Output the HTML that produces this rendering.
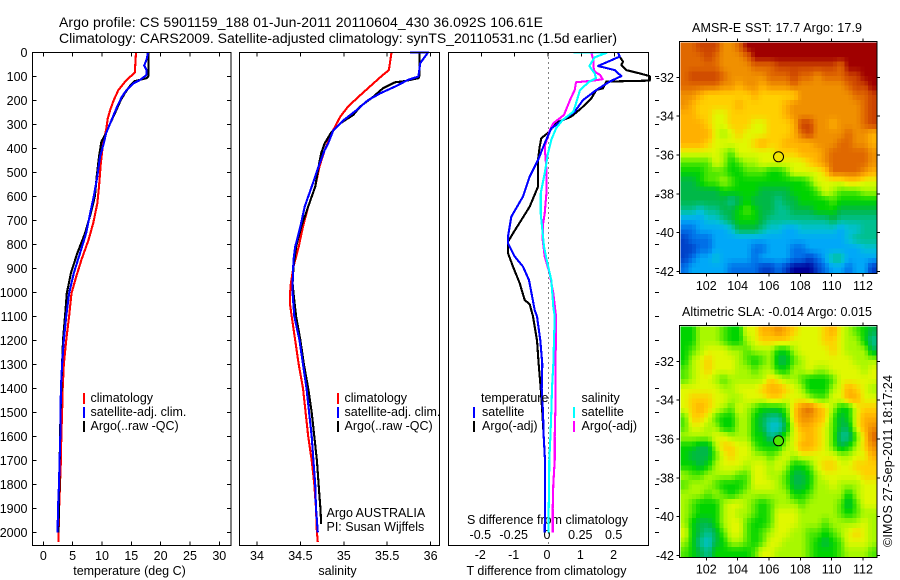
<!DOCTYPE html>
<html>
<head>
<meta charset="utf-8">
<title>Argo profile</title>
<style>
html,body{margin:0;padding:0;background:#fff;}
svg{display:block;}
text{font-family:"Liberation Sans",sans-serif;font-size:12.5px;fill:#000;}
text.main{font-size:14px;}
</style>
</head>
<body>
<svg id="chart" xmlns="http://www.w3.org/2000/svg" width="900" height="580" viewBox="0 0 900 580">
<defs><clipPath id="diffClip"><rect x="448" y="52" width="203" height="493"/></clipPath></defs>
<text class="main" x="59" y="27" textLength="484" lengthAdjust="spacing">Argo profile: CS 5901159_188 01-Jun-2011 20110604_430 36.092S 106.61E</text>
<text class="main" x="59" y="43" textLength="558" lengthAdjust="spacing">Climatology: CARS2009. Satellite-adjusted climatology: synTS_20110531.nc (1.5d earlier)</text>
<text x="129.5" y="575" text-anchor="middle">temperature (deg C)</text>
<text x="337.5" y="575" text-anchor="middle">salinity</text>
<text x="546.5" y="575" text-anchor="middle">T difference from climatology</text>
<text x="547.5" y="524" text-anchor="middle">S difference from climatology</text>
<text x="326.5" y="517">Argo AUSTRALIA</text>
<text x="326.5" y="531">PI: Susan Wijffels</text>
<text x="777" y="32" text-anchor="middle" textLength="170" lengthAdjust="spacing">AMSR-E SST: 17.7 Argo: 17.9</text>
<text x="777" y="316" text-anchor="middle" textLength="190" lengthAdjust="spacing">Altimetric SLA: -0.014 Argo: 0.015</text>
<text transform="translate(892 547) rotate(-90)" textLength="172" lengthAdjust="spacing">©IMOS 27-Sep-2011 18:17:24</text>
<g id="layer"></g>
<g>
<rect x="83" y="393" width="2" height="11" fill="#f00"/>
<rect x="83" y="407" width="2" height="11" fill="#00f"/>
<rect x="83" y="421" width="2" height="11" fill="#000"/>
<text x="90.5" y="402">climatology</text>
<text x="90.5" y="416">satellite-adj. clim.</text>
<text x="90.5" y="430">Argo(..raw -QC)</text>
</g>
<g>
<rect x="337" y="393" width="2" height="11" fill="#f00"/>
<rect x="337" y="407" width="2" height="11" fill="#00f"/>
<rect x="337" y="421" width="2" height="11" fill="#000"/>
<text x="344.5" y="402">climatology</text>
<text x="344.5" y="416">satellite-adj. clim.</text>
<text x="344.5" y="430">Argo(..raw -QC)</text>
</g>
<g>
<text x="481" y="402">temperature</text>
<text x="581.5" y="402">salinity</text>
<rect x="473" y="407" width="2" height="11" fill="#00f"/>
<rect x="473" y="421" width="2" height="11" fill="#000"/>
<rect x="573" y="407" width="2" height="11" fill="#0ff"/>
<rect x="573" y="421" width="2" height="11" fill="#f0f"/>
<text x="482" y="416">satellite</text>
<text x="482" y="430">Argo(-adj)</text>
<text x="581.5" y="416">satellite</text>
<text x="581.5" y="430">Argo(-adj)</text>
</g>
</svg>
<script>
// ---- tick data
var depthTicks = [0,100,200,300,400,500,600,700,800,900,1000,1100,1200,1300,1400,1500,1600,1700,1800,1900,2000];
var tempTicks = [0,5,10,15,20,25,30];
var salTicks = [34,34.5,35,35.5,36];
var tDiffTicks = [-2,-1,0,1,2];
var sDiffTicks = [-0.5,-0.25,0,0.25,0.5];
var lonTicks = [102,104,106,108,110,112];
var latTicks = [32,34,36,38,40,42];

// ---- temperature profiles
var tempClimDepth = [0,85,115,157,200,240,275,323,380,462,560,630,712,782,865,935,1004,1100,1200,1300,1400,1500,1600,1700,1800,1900,2000,2040];
var tempClim = [15.8,15.6,14.2,12.8,12.0,11.4,11,10.7,10.2,9.8,9.5,9.2,8.5,7.7,6.5,5.6,4.8,4.4,3.9,3.5,3.3,3.2,3.07,3.0,2.84,2.7,2.6,2.55];
var tempArgoDepth = [0,100,108,120,136,170,200,254,296,337,372,435,518,600,670,754,837,920,1004,1100,1200,1300,1400,1500,1600,1700,1800,1900,2000];
var tempArgo = [17.9,17.9,17.6,15.6,14.9,13.9,13.2,12.2,11.4,10.7,9.9,9.5,9.1,8.8,8.1,7.1,5.8,4.7,4,3.7,3.35,3.2,3.07,2.95,2.84,2.8,2.73,2.67,2.55];
var tempSatDepth = [0,30,55,74,94,115,130,157,185,226,261,296,337,380,435,518,600,670,754,837,920,1004,1100,1200,1300,1400,1500,1600,1700,1800,1900,2000];
var tempSat = [17.85,17.6,17.2,17.6,17.6,16.5,15.3,14.2,13.4,12.6,12,11.4,10.7,10.3,9.66,9.2,8.6,8,7.3,6.25,5.2,4.4,3.9,3.5,3.2,3,2.95,2.9,2.78,2.67,2.5,2.44];

// ---- salinity profiles
var salClimDepth = [0,74,94,143,185,226,268,337,407,476,560,643,726,810,893,962,1004,1050,1100,1200,1300,1400,1500,1600,1700,1800,1900,2000,2040];
var salClim = [35.55,35.52,35.45,35.3,35.17,35.05,34.96,34.86,34.78,34.72,34.67,34.59,34.53,34.48,34.42,34.39,34.38,34.38,34.4,34.44,34.48,34.53,34.56,34.59,34.63,34.66,34.68,34.69,34.7];
var salArgoDepth = [0,100,108,120,125,150,185,226,261,296,337,379,420,476,560,643,726,810,893,962,1004,1100,1200,1300,1400,1500,1600,1700,1800,1900,1965];
var salArgo = [35.87,35.87,35.86,35.7,35.59,35.45,35.34,35.19,35.11,34.96,34.85,34.78,34.74,34.71,34.67,34.59,34.51,34.45,34.42,34.41,34.42,34.45,34.5,34.54,34.59,34.63,34.66,34.69,34.71,34.73,34.74];
var salSatDepth = [0,1,25,46,101,115,143,171,199,240,282,324,379,407,476,560,643,726,810,865,962,1004,1100,1200,1300,1400,1500,1600,1700,1800,1900,2000];
var salSat = [35.76,35.97,35.92,35.88,35.86,35.74,35.59,35.42,35.28,35.15,35.0,34.88,34.82,34.78,34.71,34.63,34.55,34.5,34.44,34.42,34.41,34.41,34.43,34.49,34.53,34.57,34.6,34.63,34.65,34.67,34.68,34.7];

// ---- difference profiles (T in deg C, S in salinity units)
var dTempArgoDepth = [0,18,39,53,74,88,99,118,122,150,157,192,233,268,296,330,358,393,449,560,643,699,754,789,837,893,962,1032,1050,1100,1200,1300,1400,1500,1600,1700,1800,1900,2000];
var dTempArgo = [2.1,2.15,2.25,2.2,2.35,2.75,3.05,3.05,1.75,1.65,1.45,1.3,1.0,0.7,0.2,0.05,-0.2,-0.25,-0.3,-0.3,-0.55,-0.8,-1.05,-1.2,-1.2,-1.05,-0.85,-0.7,-0.55,-0.45,-0.33,-0.28,-0.22,-0.17,-0.13,-0.09,-0.09,-0.09,-0.09];
var dTempSatDepth = [0,18,57,74,99,122,157,199,247,282,317,379,449,518,601,685,768,796,851,893,949,1074,1100,1200,1300,1400,1500,1600,1700,1800,1900,2000];
var dTempSat = [2.1,2.15,1.5,2,2.2,1.85,1.45,1.05,0.8,0.45,0.1,-0.1,-0.3,-0.55,-0.75,-1.1,-1.2,-1.2,-1,-0.75,-0.57,-0.4,-0.33,-0.23,-0.17,-0.19,-0.15,-0.13,-0.09,-0.09,-0.09,-0.1];
var dSalSatDepth = [0,2,21,57,88,108,122,157,213,247,282,317,365,421,504,588,671,754,810,865,949,1060,1100,1200,1300,1400,1500,1600,1700,1800,1900,2000];
var dSalSat = [0.19,0.44,0.35,0.31,0.35,0.36,0.31,0.24,0.21,0.19,0.11,0.06,0.025,0,-0.025,-0.055,-0.055,-0.04,-0.03,-0.01,0.025,0.04,0.05,0.045,0.04,0.03,0.025,0.018,0.01,0.008,0.005,0.005];
var dSalArgoDepth = [0,32,60,81,94,112,118,125,157,192,233,261,296,330,393,504,588,671,726,782,851,921,1004,1074,1100,1200,1300,1400,1500,1600,1700,1800,1900,2000];
var dSalArgo = [0.325,0.34,0.34,0.35,0.39,0.41,0.34,0.21,0.2,0.17,0.14,0.12,0.04,0.01,-0.025,-0.01,-0.012,-0.025,-0.04,-0.04,-0.025,0.012,0.04,0.055,0.06,0.06,0.055,0.055,0.055,0.05,0.05,0.04,0.035,0.035];

// ---- map grids (colour level per sample, 0 = coldest/lowest, 16 = warmest/highest)
var sstGrid = [
[14,14,15,15,15,13,13,14,16,16,16,16,16,16,16,16,16,16,16,16,16,16,16,16,16],
[14,14,14,15,14,13,13,13,14,16,16,16,16,16,16,16,16,16,16,16,16,16,16,16,16],
[14,14,14,14,14,13,13,13,13,14,14,14,15,15,15,15,15,15,15,15,14,16,16,16,16],
[14,15,15,15,15,14,13,13,13,13,13,14,14,14,15,14,14,13,14,14,14,15,15,16,16],
[14,14,14,14,14,13,13,12,13,13,12,13,13,13,14,13,13,13,13,13,13,14,15,15,16],
[13,13,12,11,11,11,11,11,11,12,11,11,11,11,11,13,13,13,13,13,13,13,14,14,15],
[13,12,11,11,11,11,11,12,11,11,11,11,11,12,13,13,13,13,13,13,13,13,13,14,15],
[12,12,11,11,10,10,11,11,11,11,11,11,11,12,13,13,13,13,13,13,13,13,13,14,15],
[12,12,12,11,10,10,11,11,11,10,10,11,11,11,12,15,15,13,13,12,13,13,13,14,15],
[12,12,12,12,10,9,10,11,10,10,10,11,11,11,12,14,15,13,13,13,13,14,13,13,12],
[12,12,12,11,10,10,10,10,10,11,12,11,11,12,12,12,12,13,13,13,14,14,13,13,12],
[10,10,10,10,10,9,8,10,10,10,10,10,11,11,11,12,12,12,13,14,14,14,14,14,13],
[8,8,8,8,10,9,7,8,9,9,10,10,10,10,10,10,11,12,13,14,14,14,14,14,13],
[7,7,7,8,8,8,7,7,8,8,8,7,7,8,10,10,10,10,11,14,14,14,14,13,12],
[6,6,7,8,8,9,8,7,7,7,7,7,7,7,7,7,8,10,10,10,10,11,11,10,10],
[6,6,6,6,6,7,7,7,7,7,6,6,6,6,7,7,7,8,10,9,8,8,8,9,9],
[6,6,6,6,6,6,5,6,7,6,6,6,5,6,6,7,7,7,7,8,7,7,7,7,7],
[5,5,4,5,5,6,6,7,8,7,6,6,5,5,6,6,6,7,7,7,6,6,6,6,6],
[3,3,3,4,4,5,6,7,7,7,6,5,5,5,5,5,5,5,5,6,5,5,5,5,5],
[2,2,3,3,3,3,4,6,6,6,5,4,4,3,3,4,4,4,4,4,3,4,4,5,5],
[1,2,2,2,3,3,3,3,3,3,3,3,3,3,3,3,3,3,3,3,3,4,5,5,5],
[1,1,2,2,3,3,3,3,3,2,2,3,3,3,2,2,3,3,3,3,3,3,3,4,4],
[1,2,3,3,4,3,3,3,3,2,3,3,3,3,2,2,1,2,3,5,5,3,3,3,3],
[2,3,3,3,3,3,2,2,2,2,1,1,2,1,0,0,0,1,2,3,3,2,3,3,1]
];
var slaGrid = [
[7,7,9,9,9,8,7,7,10,10,12,12,13,12,11,10,10,10,11,12,10,9,8,7,6],
[7,7,9,9,9,8,7,7,9,10,11,11,11,11,10,10,10,10,11,11,10,9,9,7,5],
[7,8,9,10,10,10,9,9,8,9,9,9,7,7,9,10,10,10,10,11,10,9,9,9,6],
[7,9,10,11,10,10,10,9,8,7,8,9,6,6,8,9,10,10,10,10,10,10,9,9,9],
[8,9,10,11,10,10,10,9,9,8,9,9,7,7,9,9,10,9,9,10,10,10,10,9,10],
[8,9,10,10,9,8,9,9,9,9,9,11,10,9,9,8,7,7,7,8,10,10,10,10,10],
[10,10,10,10,10,9,9,10,10,10,11,12,12,11,10,9,7,7,7,9,10,12,11,10,9],
[10,11,11,11,10,10,9,9,10,10,10,11,11,10,10,10,9,8,8,10,10,12,12,10,10],
[10,11,12,11,10,9,8,10,9,8,7,7,7,8,11,13,14,12,11,9,7,7,10,11,11],
[8,11,11,10,8,7,7,9,9,7,6,5,5,7,11,13,13,12,11,8,6,7,10,12,12],
[8,10,10,9,9,7,7,9,9,7,6,4,4,6,10,12,12,11,10,8,6,6,10,12,13],
[9,9,9,9,10,10,9,9,9,7,7,5,6,8,10,11,12,11,10,8,5,5,8,11,14],
[7,7,6,6,9,11,11,10,10,8,7,7,7,9,10,12,12,11,10,8,6,7,9,11,13],
[7,6,6,6,8,10,11,10,10,9,9,8,9,10,9,10,10,10,10,10,9,9,10,10,12],
[7,7,6,7,9,10,10,10,9,10,10,9,10,9,7,7,8,10,11,11,10,10,11,11,11],
[9,8,8,9,9,9,9,8,8,10,10,9,9,8,6,6,7,9,10,10,10,10,10,11,11],
[8,9,9,9,8,7,7,7,8,10,10,10,9,8,6,6,7,9,9,10,9,9,9,10,10],
[9,9,9,8,9,8,7,8,9,9,9,9,9,9,7,7,8,9,9,9,9,7,9,10,10],
[9,8,7,7,7,9,10,10,9,8,7,8,9,9,9,8,9,9,9,9,8,6,8,10,10],
[9,8,7,7,7,9,10,9,9,8,7,8,10,10,10,9,9,9,9,9,8,7,8,9,9],
[9,7,6,6,7,9,10,10,8,7,7,8,10,10,10,9,9,9,8,9,9,9,9,10,9],
[10,7,6,5,6,8,10,10,8,7,8,9,10,10,9,9,8,8,7,8,9,10,11,10,9],
[9,7,5,4,6,7,9,9,8,7,8,10,10,9,9,9,8,7,6,7,8,10,10,10,9],
[8,7,6,5,7,7,7,7,7,8,10,10,9,9,9,9,8,7,7,7,8,9,9,9,8]
];
var argoLon = [106.61];
var argoLat = [36.092];
var sstArgoLevel = [10.5];
var slaArgoLevel = [8];

var levelColors = [[0,0,152],[0,64,200],[0,112,232],[0,168,248],[0,192,216],[0,192,144],[0,184,72],[0,212,0],[80,232,0],[168,248,0],[224,248,0],[255,208,0],[255,176,0],[240,144,0],[224,104,0],[204,68,0],[160,0,0]];

// ---- axis functions
var PLOT_TOP = 52.3, PLOT_BOTTOM = 545.3;
function yDepth(d){ return PLOT_TOP + d * 0.24; }
function xTemp(v){ return 43.3 + v * 5.867; }
function xSal(v){ return 257 + (v - 34) * 86.8; }
function xDT(v){ return 548 + v * 33.33; }
function xDS(v){ return 548 + v * 133.33; }
var MAP_LEFT = 679.5, MAP_RIGHT = 877;
function lonX(lon){ return 706.3 + (lon - 102) * 15.67; }
function latY1(lat){ return 77.3 + (lat - 32) * 19.43; }
function latY2(lat){ return 361.3 + (lat - 32) * 19.43; }

// level (possibly fractional, when a map grid is rendered at finer display resolution) to colour
function levelColor(v){
  var i = Math.max(0, Math.min(levelColors.length - 2, Math.floor(v)));
  var t = v - i, a = levelColors[i], b = levelColors[i + 1];
  return 'rgb(' + Math.round(a[0] + (b[0] - a[0]) * t) + ',' + Math.round(a[1] + (b[1] - a[1]) * t) + ',' + Math.round(a[2] + (b[2] - a[2]) * t) + ')';
}
function sampleGrid(grid, u, v){
  var rows = grid.length, cols = grid[0].length;
  var x = Math.max(0, Math.min(cols - 1, u * cols - 0.5));
  var y = Math.max(0, Math.min(rows - 1, v * rows - 0.5));
  var c0 = Math.floor(x), r0 = Math.floor(y);
  var c1 = Math.min(cols - 1, c0 + 1), r1 = Math.min(rows - 1, r0 + 1);
  var fx = x - c0, fy = y - r0;
  return (grid[r0][c0] * (1 - fx) + grid[r0][c1] * fx) * (1 - fy) + (grid[r1][c0] * (1 - fx) + grid[r1][c1] * fx) * fy;
}

var svgNS = 'http://www.w3.org/2000/svg';
var layer = document.getElementById('layer');

function makeEl(tag, attrs){
  var el = document.createElementNS(svgNS, tag);
  for (var k in attrs) el.setAttribute(k, attrs[k]);
  layer.appendChild(el);
  return el;
}
function tick(name, x1, y1, x2, y2){
  var el = makeEl('line', {x1:x1, y1:y1, x2:x2, y2:y2, stroke:'#000', 'stroke-width':1, 'shape-rendering':'crispEdges'});
  
  
}
function label(name, x, y, txt, anchor){
  var el = makeEl('text', {x:x, y:y, 'text-anchor':anchor});
  el.textContent = txt;
  
  
}
function frame(name, x, y, w, h){
  var el = makeEl('rect', {x:x, y:y, width:w, height:h, fill:'none', stroke:'#000', 'stroke-width':1, 'shape-rendering':'crispEdges'});
  
  
}
function series(name, depths, vals, xf, color, w, clip){
  var pts = [];
  for (var i = 0; i < vals.length; i++) pts.push(xf(vals[i]).toFixed(1) + ',' + yDepth(depths[i]).toFixed(1));
  var el = makeEl('polyline', {points:pts.join(' '), fill:'none', stroke:color, 'stroke-width':w, 'stroke-linejoin':'round', 'shape-rendering':'crispEdges'});
  if (clip) el.setAttribute('clip-path', 'url(#diffClip)');
  
  
}

// ---- profile axes
var P = [[32.5,231],[239.5,439.5],[448.5,648.5]];
depthTicks.forEach(function(d){
  var y = yDepth(d);
  label('depth-tick-label', 27.5, y + 4.5, String(d), 'end');
  tick('depth-tick-left', P[0][0], y, P[0][0] + 4, y);
  tick('depth-tick-right', P[0][1] - 4, y, P[0][1], y);
  if (d > 0) tick('depth-tick-far-right', 655, y, 659, y);
});
tempTicks.forEach(function(v){
  var x = xTemp(v);
  tick('temp-tick-top', x, PLOT_TOP, x, PLOT_TOP + 4);
  tick('temp-tick-bottom', x, PLOT_BOTTOM - 4, x, PLOT_BOTTOM);
  label('temp-tick-label', x, 560, String(v), 'middle');
});
salTicks.forEach(function(v){
  var x = xSal(v);
  tick('salinity-tick-top', x, PLOT_TOP, x, PLOT_TOP + 4);
  tick('salinity-tick-bottom', x, PLOT_BOTTOM - 4, x, PLOT_BOTTOM);
  label('salinity-tick-label', x, 560, String(v), 'middle');
});
tDiffTicks.forEach(function(v){
  var x = xDT(v);
  tick('t-diff-tick-top', x, PLOT_TOP, x, PLOT_TOP + 4);
  label('t-diff-tick-label', x - 1, 559, String(v), 'middle');
});
sDiffTicks.forEach(function(v){
  label('s-diff-tick-label', xDS(v) - 1, 539, String(v), 'middle');
});

var zero = makeEl('line', {x1:xDT(0) + 0.5, y1:PLOT_TOP, x2:xDT(0) + 0.5, y2:PLOT_BOTTOM, stroke:'#000', 'stroke-width':1, 'stroke-dasharray':'1 4', 'shape-rendering':'crispEdges'});



// ---- series
var LINE_W = 2.1;
series('temperature-climatology-line', tempClimDepth, tempClim, xTemp, '#f00', LINE_W);
series('temperature-argo-line', tempArgoDepth, tempArgo, xTemp, '#000', LINE_W);
series('temperature-satellite-line', tempSatDepth, tempSat, xTemp, '#00f', LINE_W);
series('salinity-climatology-line', salClimDepth, salClim, xSal, '#f00', LINE_W);
series('salinity-argo-line', salArgoDepth, salArgo, xSal, '#000', LINE_W);
series('salinity-satellite-line', salSatDepth, salSat, xSal, '#00f', LINE_W);
series('t-diff-argo-line', dTempArgoDepth, dTempArgo, xDT, '#000', LINE_W, true);
series('s-diff-argo-line', dSalArgoDepth, dSalArgo, xDS, '#f0f', LINE_W, true);
series('t-diff-satellite-line', dTempSatDepth, dTempSat, xDT, '#00f', LINE_W, true);
series('s-diff-satellite-line', dSalSatDepth, dSalSat, xDS, '#0ff', LINE_W, true);

frame('temperature-plot-frame', P[0][0], PLOT_TOP, P[0][1] - P[0][0], PLOT_BOTTOM - PLOT_TOP);
frame('salinity-plot-frame', P[1][0], PLOT_TOP, P[1][1] - P[1][0], PLOT_BOTTOM - PLOT_TOP);
frame('difference-plot-frame', P[2][0], PLOT_TOP, P[2][1] - P[2][0], PLOT_BOTTOM - PLOT_TOP);

// ---- maps: each grid is displayed at twice its sampling density, as in the finer source image
var DISPLAY_SCALE = 2;
function drawMap(prefix, grid, top, bottom, latY, lblY, argoLevel){
  var rows = grid.length * DISPLAY_SCALE, cols = grid[0].length * DISPLAY_SCALE;
  var x0 = MAP_LEFT + 1, x1 = MAP_RIGHT - 1, y0 = top + 1, y1 = bottom - 1;
  var cw = (x1 - x0) / cols, ch = (y1 - y0) / rows;
  for (var r = 0; r < rows; r++) {
    for (var c = 0; c < cols; c++) {
      var val = sampleGrid(grid, (c + 0.5) / cols, (r + 0.5) / rows);
      var cell = makeEl('rect', {x:x0 + c * cw, y:y0 + r * ch, width:cw + 0.5, height:ch + 0.5, fill:levelColor(val), 'shape-rendering':'crispEdges'});
      
      
    }
  }
  frame(prefix + '-map-frame', MAP_LEFT, top, MAP_RIGHT - MAP_LEFT, bottom - top);
  lonTicks.forEach(function(lon){
    var x = lonX(lon);
    tick(prefix + '-lon-tick-top', x, top - 3, x, top);
    tick(prefix + '-lon-tick-bottom', x, bottom, x, bottom + 3);
    label(prefix + '-lon-label', x, lblY, String(lon), 'middle');
  });
  latTicks.forEach(function(lat){
    var y = latY(lat);
    tick(prefix + '-lat-tick-left', MAP_LEFT - 3, y, MAP_LEFT, y);
    tick(prefix + '-lat-tick-right', MAP_RIGHT, y, MAP_RIGHT + 3, y);
    label(prefix + '-lat-label', 674, y + 4.5, '-' + lat, 'end');
  });
  var dot = makeEl('circle', {cx:lonX(argoLon[0]), cy:latY(argoLat[0]), r:5, fill:levelColor(argoLevel), stroke:'#000', 'stroke-width':1});
  
  
}
drawMap('sst', sstGrid, 41.5, 273.5, latY1, 290, sstArgoLevel[0]);
drawMap('sla', slaGrid, 325.5, 557.5, latY2, 573.5, slaArgoLevel[0]);
</script>
</body>
</html>
